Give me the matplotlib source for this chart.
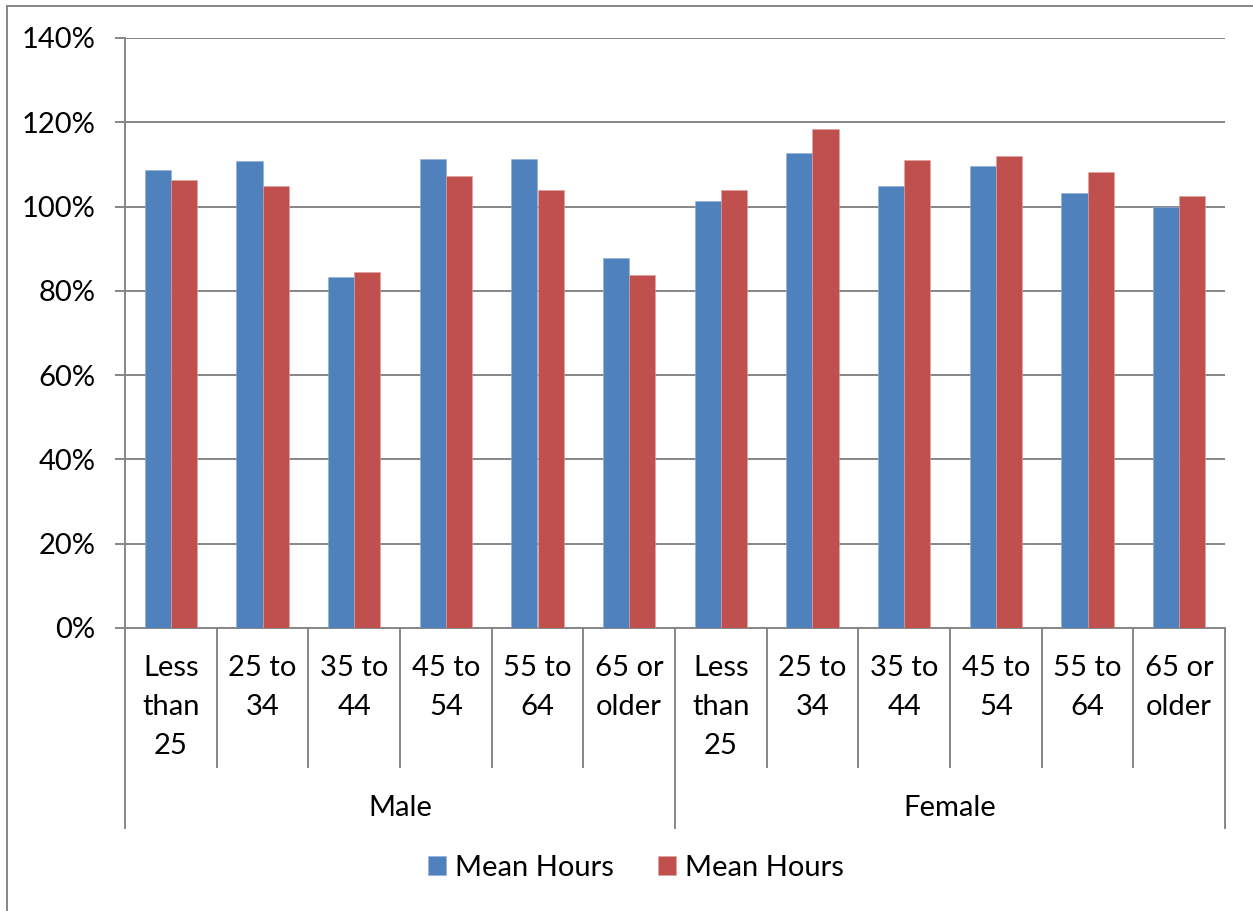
import numpy as np
import matplotlib.pyplot as plt
from matplotlib.lines import Line2D

plt.rcParams['font.family'] = ['Lato', 'DejaVu Sans']

# data (percent)
groups = ['Male', 'Female']
ages = ['Less\nthan\n25', '25 to\n34', '35 to\n44', '45 to\n54', '55 to\n64', '65 or\nolder']
series_names = ['Mean Hours', 'Mean Hours']
blue_vals = [108.7, 110.9, 83.3, 111.3, 111.3, 87.8,
             101.4, 112.8, 105.0, 109.6, 103.2, 99.8]
red_vals = [106.4, 104.9, 84.4, 107.3, 104.0, 83.7,
            104.0, 118.3, 111.0, 111.9, 108.1, 102.4]
yticks = [0, 20, 40, 60, 80, 100, 120, 140]

BLUE = '#4F81BD'
RED = '#C0504D'
GRID = '#868686'
FS = 21

W, H = 1253, 911
fig = plt.figure(figsize=(W / 100, H / 100), dpi=100)

# plot area in pixels: x 125..1225, y 38..628
x0, x1, y0, y1 = 125, 1225, 38, 628
ax = fig.add_axes([x0 / W, 1 - y1 / H, (x1 - x0) / W, (y1 - y0) / H])

n = len(blue_vals)
x = np.arange(n) + 0.5
bw = 1 / 3.5
ax.bar(x - bw / 2, blue_vals, bw, color=BLUE, edgecolor='#8EB0DC', linewidth=0.4, label=series_names[0], zorder=3)
ax.bar(x + bw / 2, red_vals, bw, color=RED, edgecolor='#E0A3A1', linewidth=0.4, label=series_names[1], zorder=3)

ax.set_xlim(0, n)
ax.set_ylim(0, 140)
ax.set_yticks(yticks)
ax.set_yticklabels([f'{v}%' for v in yticks], fontsize=FS)
ax.grid(axis='y', color=GRID, linewidth=1.4, zorder=0)
ax.tick_params(axis='y', length=7.2, width=1.4, color=GRID, pad=14)
ax.set_xticks([])
for s in ['top', 'right']:
    ax.spines[s].set_visible(False)
for s in ['left', 'bottom']:
    ax.spines[s].set_color(GRID)
    ax.spines[s].set_linewidth(1.4)

# category axis: separators and labels below the plot
ph = y1 - y0
trans = ax.get_xaxis_transform()
for i in range(n + 1):
    bottom = 828 if i % 6 == 0 else 767
    ax.add_line(Line2D([i, i], [0, -(bottom - y1) / ph], transform=trans,
                       color=GRID, linewidth=1.4, clip_on=False))

labels = ages * len(groups)
for i, lab in enumerate(labels):
    for k, line in enumerate(lab.split('\n')):
        ax.text(i + 0.5, -(668 + 39 * k - y1) / ph, line, transform=trans,
                ha='center', va='center', fontsize=FS)
for g, name in enumerate(groups):
    ax.text(g * 6 + 3, -(808 - y1) / ph, name, transform=trans,
            ha='center', va='center', fontsize=FS)

# legend
fig.legend(loc='center', bbox_to_anchor=(636 / W, 1 - 868 / H), ncol=2,
           frameon=False, fontsize=FS, handlelength=0.62, handleheight=0.62,
           handletextpad=0.31, columnspacing=1.5)

# outer chart border (cut off at right and bottom)
fig.add_artist(Line2D([7 / W, 1], [1 - 6 / H, 1 - 6 / H], transform=fig.transFigure,
                      color=GRID, linewidth=1.4))
fig.add_artist(Line2D([7 / W, 7 / W], [0, 1 - 6 / H], transform=fig.transFigure,
                      color=GRID, linewidth=1.4))

fig.savefig('out.png', dpi=100)
